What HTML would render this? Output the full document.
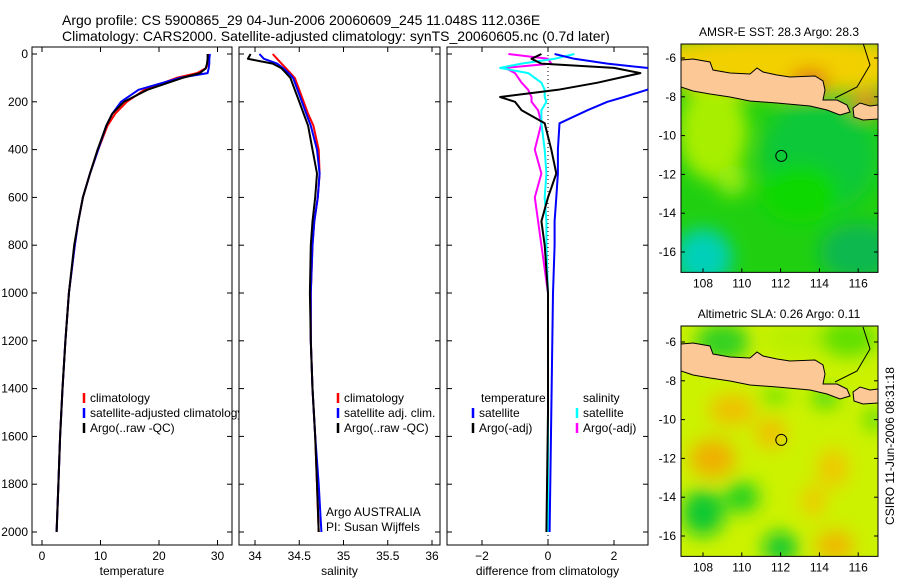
<!DOCTYPE html>
<html><head><meta charset="utf-8"><style>
html,body{margin:0;padding:0;background:#fff}
svg{display:block;font-family:"Liberation Sans",sans-serif}
text{font-size:12px;fill:#000}
</style></head><body>
<svg id="fig" width="900" height="580" viewBox="0 0 900 580" xmlns="http://www.w3.org/2000/svg">
<defs>
<filter id="blur1" x="-50%" y="-50%" width="200%" height="200%"><feGaussianBlur stdDeviation="9"/></filter>
<clipPath id="cp1"><rect x="32" y="47" width="200" height="498"/></clipPath>
<clipPath id="cp2"><rect x="239" y="47" width="201" height="498"/></clipPath>
<clipPath id="cp3"><rect x="447" y="47" width="201" height="498"/></clipPath>
<clipPath id="cm1"><rect x="681" y="44" width="197" height="228"/></clipPath>
<clipPath id="cm2"><rect x="681" y="326" width="197" height="230"/></clipPath>
</defs>
<text x="62" y="25" style="font-size:14px">Argo profile: CS 5900865_29 04-Jun-2006 20060609_245 11.048S 112.036E</text>
<text x="62" y="41" style="font-size:14px">Climatology: CARS2000. Satellite-adjusted climatology: synTS_20060605.nc (0.7d later)</text>
<g id="root"></g>
<text transform="translate(894,446) rotate(-90)" text-anchor="middle">CSIRO 11-Jun-2006 08:31:18</text>
</svg>
<script>
// ---- data ----
const depthT = [0,20,40,60,80,100,150,200,250,300,400,500,600,700,800,1000,1200,1400,1600,1800,2000];
const argoTemp = [28.3,28.3,28.2,28.0,27.0,24.0,18.0,14.0,12.0,11.0,9.5,8.2,7.0,6.2,5.5,4.6,4.0,3.5,3.1,2.8,2.5];
const climTemp = [28.6,28.5,28.4,28.0,26.5,23.0,17.5,14.5,12.5,11.2,9.6,8.2,7.0,6.2,5.6,4.6,4.0,3.5,3.1,2.8,2.5];
const satTemp  = [28.7,28.6,28.6,28.5,28.3,23.5,16.5,13.5,12.0,11.0,9.6,8.2,7.0,6.2,5.6,4.6,4.0,3.5,3.1,2.8,2.5];
const argoSal = [33.95,33.92,34.2,34.3,34.35,34.4,34.45,34.5,34.55,34.6,34.65,34.7,34.68,34.65,34.63,34.62,34.63,34.65,34.68,34.7,34.72];
const climSal = [34.2,34.25,34.3,34.35,34.4,34.45,34.5,34.55,34.6,34.66,34.72,34.73,34.71,34.67,34.65,34.63,34.63,34.65,34.68,34.7,34.72];
const satSal  = [34.05,34.1,34.25,34.32,34.38,34.43,34.48,34.53,34.58,34.63,34.7,34.73,34.71,34.67,34.65,34.63,34.63,34.65,34.68,34.72,34.75];
const depthD = [0,20,40,58,80,120,150,180,200,235,290,400,500,600,700,800,1000,1500,2000];
const diffTSat  = [0.2,0.8,1.8,3.0,3.6,3.5,3.0,2.3,1.8,1.2,0.35,0.3,0.3,0.25,0.2,0.2,0.15,0.1,0.05];
const diffTArgo = [-0.2,-0.5,-0.2,2.0,2.8,1.5,0.3,-1.45,-1.0,-0.8,-0.1,0.1,0.25,0.0,-0.2,-0.1,0.0,0.0,-0.05];
const diffSSat  = [0.8,0.2,-0.8,-1.45,-0.6,-0.2,-0.1,-0.1,-0.05,-0.2,-0.2,-0.1,-0.05,-0.1,-0.05,-0.05,0.0,0.0,0.0];
const diffSArgo = [-1.2,0.0,0.1,-1.3,-1.0,-0.8,-0.6,-0.5,-0.5,-0.3,-0.2,-0.4,-0.2,-0.4,-0.3,-0.2,0.0,0.0,0.0];
const depthTicks = [0,200,400,600,800,1000,1200,1400,1600,1800,2000];
const tempTicks = [0,10,20,30];
const salTicks = [34,34.5,35,35.5,36];
const diffTicks = [-2,0,2];
const lonTicks = [108,110,112,114,116];
const latTicks = [-6,-8,-10,-12,-14,-16];

const NS="http://www.w3.org/2000/svg";
const root=document.getElementById('root');
function mk(tag,attrs,parent){const e=document.createElementNS(NS,tag);for(const k in attrs)e.setAttribute(k,attrs[k]);(parent||root).appendChild(e);return e;}
const yD=d=>54+d*0.239;
const xT=v=>42+v*5.85;
const xS=v=>255+(v-34)*88.5;
const xDf=v=>548+v*33;

function frame(x,y,w,h,name){
  const r=mk('rect',{x:x,y:y,width:w,height:h,fill:'none',stroke:'#000','stroke-width':1});
  
  
}
function line(xs,ys,color,clip,name,w){
  const pts=xs.map((x,i)=>x.toFixed(1)+','+ys[i].toFixed(1)).join(' ');
  const p=mk('polyline',{points:pts,fill:'none',stroke:color,'stroke-width':w||2,'clip-path':'url(#'+clip+')','stroke-linejoin':'round'});
  
  
}
function panel(x0,x1,clip,xf,ticks,label,fmt,name){
  mk('rect',{x:x0,y:47,width:x1-x0,height:498,fill:'#fff'});
  frame(x0,47,x1-x0,498,name+'-frame');
  depthTicks.forEach(d=>{
    mk('line',{x1:x0,x2:x0+5,y1:yD(d),y2:yD(d),stroke:'#000'});
    mk('line',{x1:x1-5,x2:x1,y1:yD(d),y2:yD(d),stroke:'#000'});
    if(name==='temperature-panel'){
      const t=mk('text',{x:x0-4,y:yD(d)+4,'text-anchor':'end'});t.textContent=d;
      
      
    }
  });
  ticks.forEach(v=>{
    const x=xf(v);
    mk('line',{x1:x,x2:x,y1:545,y2:540,stroke:'#000'});
    mk('line',{x1:x,x2:x,y1:47,y2:52,stroke:'#000'});
    const t=mk('text',{x:x,y:560,'text-anchor':'middle'});t.textContent=fmt(v);
    
    
  });
  const t=mk('text',{x:(x0+x1)/2,y:575,'text-anchor':'middle'});t.textContent=label;
  
  
}
function legend(x,y,color,txt,name){
  if(color){const m=mk('line',{x1:x,x2:x,y1:y-9,y2:y+1,stroke:color,'stroke-width':2.5});
    
    }
  const t=mk('text',{x:x+6,y:y});t.textContent=txt;
  
  
}
// Panel 1
panel(32,232,'cp1',xT,tempTicks,'temperature',v=>v,'temperature-panel');
line(climTemp.map(xT),depthT.map(yD),'#f00','cp1','temp-climatology-line');
line(satTemp.map(xT),depthT.map(yD),'#00f','cp1','temp-satellite-line');
line(argoTemp.map(xT),depthT.map(yD),'#000','cp1','temp-argo-line');
legend(84,402,'#f00','climatology','legend-climatology');
legend(84,417,'#00f','satellite-adjusted climatology','legend-satellite-adjusted');
legend(84,432,'#000','Argo(..raw -QC)','legend-argo-raw');
// Panel 2
panel(239,440,'cp2',xS,salTicks,'salinity',v=>v,'salinity-panel');
line(climSal.map(xS),depthT.map(yD),'#f00','cp2','sal-climatology-line');
line(satSal.map(xS),depthT.map(yD),'#00f','cp2','sal-satellite-line');
line(argoSal.map(xS),depthT.map(yD),'#000','cp2','sal-argo-line');
legend(338,402,'#f00','climatology','legend-sal-climatology');
legend(338,417,'#00f','satellite adj. clim.','legend-sal-satellite');
legend(338,432,'#000','Argo(..raw -QC)','legend-sal-argo');
legend(320,516,null,'Argo AUSTRALIA','argo-australia-note');
legend(320,531,null,'PI: Susan Wijffels','pi-note');
// Panel 3
panel(447,648,'cp3',xDf,diffTicks,'difference from climatology',v=>v<0?'\u2212'+(-v):v,'difference-panel');
mk('line',{x1:xDf(0),x2:xDf(0),y1:47,y2:545,stroke:'#000','stroke-dasharray':'1,3'});
line(diffSArgo.map(xDf),depthD.map(yD),'#f0f','cp3','diff-sal-argo-line');
line(diffSSat.map(xDf),depthD.map(yD),'#0ff','cp3','diff-sal-satellite-line');
line(diffTArgo.map(xDf),depthD.map(yD),'#000','cp3','diff-temp-argo-line');
line(diffTSat.map(xDf),depthD.map(yD),'#00f','cp3','diff-temp-satellite-line');
legend(475,402,null,'temperature','legend-temperature-header');
legend(473,417,'#00f','satellite','legend-temp-satellite');
legend(473,432,'#000','Argo(-adj)','legend-temp-argo');
legend(577,402,null,'salinity','legend-salinity-header');
legend(577,417,'#0ff','satellite','legend-sal-sat');
legend(577,432,'#f0f','Argo(-adj)','legend-sal-argo-adj');

// Maps
const xL=lon=>703+(lon-108)*19.4;
function map(top,latRef,clip,name,title,blobs,base){
  const yL=lat=>latRef+(-6-lat)*19.4;
  const g=mk('g',{'clip-path':'url(#'+clip+')'});
  
  
  mk('rect',{x:681,y:top,width:197,height:231,fill:base},g);
  const bg=mk('g',{filter:'url(#blur1)'},g);
  blobs.forEach(b=>mk('ellipse',{cx:xL(b[0]),cy:yL(b[1]),rx:b[2]*19.4,ry:b[3]*19.4,fill:b[4]},bg));
  const off=latRef-58;
  const land=[[681,60],[693,59],[710,62],[713,70],[730,73],[750,74],[757,68],[763,72],[777,75],[790,77],[815,76],[823,81],[825,90],[823,100],[837,100],[847,105],[850,112],[840,115],[827,110],[810,106],[777,103],[750,101],[730,97],[710,94],[693,91],[681,87]];
  const bali=[[853,108],[860,103],[870,106],[878,105],[878,119],[863,120],[854,117]];
  [land,bali].forEach(p=>mk('polygon',{points:p.map(q=>q[0]+','+(q[1]+off)).join(' '),fill:'#fcc896',stroke:'#000','stroke-width':1},g));
  mk('polyline',{points:'863,'+(43+off)+' 870,'+(65+off)+' 857,'+(87+off)+' 835,'+(98+off),fill:'none',stroke:'#000','stroke-width':1},g);
  mk('circle',{cx:xL(112.036),cy:yL(-11.048),r:5.5,fill:'none',stroke:'#000','stroke-width':1},g);
  frame(681,top,197,latRef+(-6+17.05)*19.4-top,name+'-frame');
  const bot=latRef+11.05*19.4;
  lonTicks.forEach(v=>{mk('line',{x1:xL(v),x2:xL(v),y1:bot,y2:bot-4,stroke:'#000'});
    const t=mk('text',{x:xL(v),y:bot+15,'text-anchor':'middle'});t.textContent=v;
    
    });
  latTicks.forEach(v=>{mk('line',{x1:681,x2:685,y1:yL(v),y2:yL(v),stroke:'#000'});mk('line',{x1:874,x2:878,y1:yL(v),y2:yL(v),stroke:'#000'});
    const t=mk('text',{x:676,y:yL(v)+4,'text-anchor':'end'});t.textContent=v;
    
    });
  const t=mk('text',{x:779,y:top-8,'text-anchor':'middle'});t.textContent=title;
  
  
}
map(44,58,'cm1','sst-map','AMSR-E SST: 28.3 Argo: 28.3',[
 [112,-6.3,8,1.6,'#f2d000'],[113.5,-7.2,1,0.6,'#e07010'],[116.5,-8.3,1,0.6,'#e09020'],
 [108.5,-9.8,1.8,2.5,'#a8ee00'],[109.5,-12.3,0.8,0.8,'#98ec10'],[114,-11,3,3,'#10c838'],
 [108,-16.3,1.5,1.5,'#00d0b8'],[116,-16,2,1.5,'#10b850'],[113,-13,2,1.5,'#10d800']
],'#20d010');
map(326,342,'cm2','sla-map','Altimetric SLA: 0.26 Argo: 0.11',[
 [109,-6,1.4,1,'#30d020'],[113,-5.8,2,0.8,'#b8f000'],[115.5,-5.8,1.5,1,'#60e000'],
 [108.5,-12,1.2,1,'#f0b000'],[109.5,-9.5,1.2,0.8,'#f0c000'],[111.5,-10.7,0.8,0.8,'#f0c000'],
 [114.7,-12.5,0.8,1,'#f0c800'],[114.8,-16.5,1,0.8,'#f0b800'],[113.7,-14.2,0.6,0.8,'#f0c800'],
 [108,-14.8,1.1,1.2,'#10c830'],[110,-14,0.9,0.8,'#20d020'],[112,-16.6,0.9,0.8,'#10c830'],
 [111.7,-8.8,0.7,0.4,'#60e000'],[114.3,-8.9,0.7,0.5,'#40d810'],[116.8,-10,0.4,0.6,'#40d810']
],'#ccf200');
</script>
</body></html>
